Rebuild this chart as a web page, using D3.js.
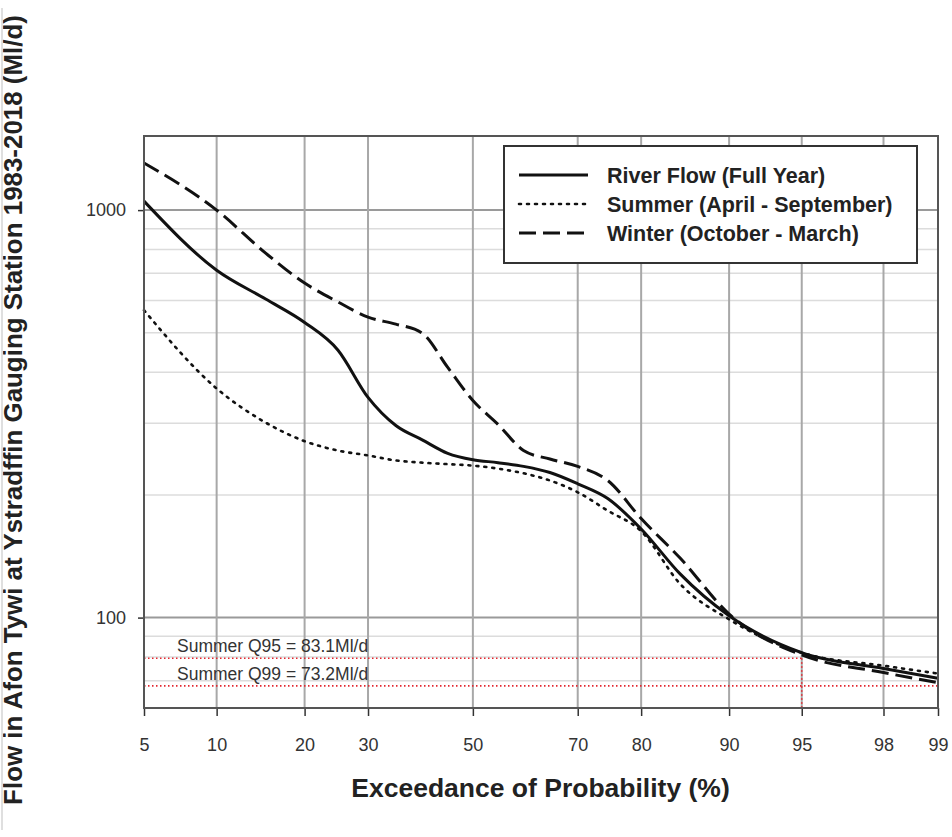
<!DOCTYPE html>
<html>
<head>
<meta charset="utf-8">
<script src="https://cdn.jsdelivr.net/npm/d3@7"></script>
<style>
  html, body { margin: 0; padding: 0; background: #fff; }
  svg { display: block; font-family: "Liberation Sans", Arial, sans-serif; }
</style>
</head>
<body>
<div id="chart"></div>
<script>
// exceedance percentiles (x) and flows in Ml/d (y)
const PCTS = [5, 10, 15, 20, 25, 30, 35, 40, 45, 50, 55, 60, 65, 70, 75, 80, 85, 90, 95, 98, 99];
const FULL_YEAR = [1052, 712, 605, 530, 453, 347, 296, 273, 253, 244, 240, 235, 227, 213, 196, 165, 128, 101, 82, 75, 71];
const SUMMER    = [568, 365, 301, 271, 257, 250, 243, 240, 238, 236, 232, 226, 217, 203, 183, 163, 121, 99, 82, 76.2, 72.9];
const WINTER    = [1305, 1000, 784, 662, 595, 546, 525, 499, 411, 341, 298, 257, 245, 235, 217, 175, 140, 102, 81, 73.3, 69.2];

const X_TICKS = [5, 10, 20, 30, 50, 70, 80, 90, 95, 98, 99];
const Y_TICKS = [100, 1000];
const Y_MINOR = [70, 80, 90, 200, 300, 400, 500, 600, 700, 800, 900];
const Y_DOMAIN = [60, 1520];

const SERIES = [
  { name: "River Flow (Full Year)",      values: FULL_YEAR, dash: null,  width: 3 },
  { name: "Summer (April - September)",  values: SUMMER,    dash: "2,6", width: 2.6 },
  { name: "Winter (October - March)",    values: WINTER,    dash: "17,7", width: 3 }
];

const REF_LINES = [
  { p: 95, value: 79.5, label: "Summer Q95 = 83.1Ml/d" },
  { p: 99, value: 68,   label: "Summer Q99 = 73.2Ml/d" }
];

// inverse normal CDF (Acklam) for the probability axis
function probit(p) {
  const a = [-39.69683028665376, 220.9460984245205, -275.9285104469687, 138.3577518672690, -30.66479806614716, 2.506628277459239];
  const b = [-54.47609879822406, 161.5858368580409, -155.6989798598866, 66.80131188771972, -13.28068155288572];
  const c = [-0.007784894002430293, -0.3223964580411365, -2.400758277161838, -2.549732539343734, 4.374664141464968, 2.938163982698783];
  const d = [0.007784695709041462, 0.3224671290700398, 2.445134137142996, 3.754408661907416];
  const pl = 0.02425;
  let q, r;
  if (p < pl) {
    q = Math.sqrt(-2 * Math.log(p));
    return (((((c[0]*q+c[1])*q+c[2])*q+c[3])*q+c[4])*q+c[5]) / ((((d[0]*q+d[1])*q+d[2])*q+d[3])*q+1);
  }
  if (p > 1 - pl) {
    q = Math.sqrt(-2 * Math.log(1 - p));
    return -(((((c[0]*q+c[1])*q+c[2])*q+c[3])*q+c[4])*q+c[5]) / ((((d[0]*q+d[1])*q+d[2])*q+d[3])*q+1);
  }
  q = p - 0.5; r = q * q;
  return (((((a[0]*r+a[1])*r+a[2])*r+a[3])*r+a[4])*r+a[5])*q / (((((b[0]*r+b[1])*r+b[2])*r+b[3])*r+b[4])*r+1);
}
const z = p => probit(p / 100);

const width = 952, height = 837;
const m = { top: 136, right: 14, bottom: 129, left: 144 };
const x0 = m.left, x1 = width - m.right, y0 = height - m.bottom, y1 = m.top;

const svg = d3.select("#chart").append("svg")
  .attr("width", width).attr("height", height);

const x = d3.scaleLinear().domain([z(5), z(99)]).range([x0, x1]);
const y = d3.scaleLog().domain(Y_DOMAIN).range([y0, y1]);
const px = p => x(z(p));

// grid
const grid = svg.append("g");
grid.selectAll(null).data(Y_MINOR).enter().append("line")
  .attr("x1", x0).attr("x2", x1)
  .attr("y1", d => y(d)).attr("y2", d => y(d))
  .attr("stroke", "#dcdcdc").attr("stroke-width", 1.5);
grid.selectAll(null).data(Y_TICKS).enter().append("line")
  .attr("x1", x0).attr("x2", x1)
  .attr("y1", d => y(d)).attr("y2", d => y(d))
  .attr("stroke", "#9a9a9a").attr("stroke-width", 2);
grid.selectAll(null).data(X_TICKS.slice(1, -1)).enter().append("line")
  .attr("x1", d => px(d)).attr("x2", d => px(d))
  .attr("y1", y1).attr("y2", y0)
  .attr("stroke", "#a8a8a8").attr("stroke-width", 2);

// axes
const xAxis = svg.append("g")
  .attr("transform", `translate(0,${y0})`)
  .call(d3.axisBottom(x)
    .tickValues(X_TICKS.map(z))
    .tickFormat((d, i) => X_TICKS[i])
    .tickSize(8).tickPadding(22).tickSizeOuter(0));
xAxis.select(".domain").remove();
xAxis.selectAll(".tick line").attr("stroke", "#333").attr("stroke-width", 1.5);
xAxis.selectAll(".tick text").attr("font-size", 18).attr("fill", "#333")
  .attr("font-family", "Liberation Sans, Arial, sans-serif");

const yAxis = svg.append("g")
  .attr("transform", `translate(${x0},0)`)
  .call(d3.axisLeft(y).tickValues(Y_TICKS).tickFormat(d3.format("d"))
    .tickSize(6).tickPadding(12).tickSizeOuter(0));
yAxis.select(".domain").remove();
yAxis.selectAll(".tick line").attr("stroke", "#333").attr("stroke-width", 1.5);
yAxis.selectAll(".tick text").attr("font-size", 18).attr("fill", "#333")
  .attr("font-family", "Liberation Sans, Arial, sans-serif");

// reference lines (summer Q95 / Q99)
const ref = svg.append("g");
REF_LINES.forEach(r => {
  ref.append("line")
    .attr("x1", x0).attr("x2", px(r.p))
    .attr("y1", y(r.value)).attr("y2", y(r.value))
    .attr("stroke", "#e3262e").attr("stroke-width", 1.6)
    .attr("stroke-dasharray", "1.5,2.5");
  ref.append("line")
    .attr("x1", px(r.p)).attr("x2", px(r.p))
    .attr("y1", y(r.value)).attr("y2", y0)
    .attr("stroke", "#e3262e").attr("stroke-width", 1.6)
    .attr("stroke-dasharray", "1.5,2.5");
  ref.append("text")
    .attr("x", 177).attr("y", y(r.value) - 6)
    .attr("font-size", 17.5).attr("fill", "#333")
    .text(r.label);
});

// curves
const line = d3.line()
  .x((d, i) => px(PCTS[i]))
  .y(d => y(d))
  .curve(d3.curveMonotoneX);

SERIES.forEach(s => {
  svg.append("path")
    .datum(s.values)
    .attr("fill", "none")
    .attr("stroke", "#111")
    .attr("stroke-width", s.width)
    .attr("stroke-dasharray", s.dash)
    .attr("stroke-linecap", s.dash === "2,6" ? "round" : "butt")
    .attr("d", line);
});

// frame
svg.append("rect")
  .attr("x", x0).attr("y", y1)
  .attr("width", x1 - x0).attr("height", y0 - y1)
  .attr("fill", "none").attr("stroke", "#555").attr("stroke-width", 2);

// legend
const lg = svg.append("g");
lg.append("rect")
  .attr("x", 504).attr("y", 146).attr("width", 413).attr("height", 117)
  .attr("fill", "#fff").attr("stroke", "#333").attr("stroke-width", 2);
SERIES.forEach((s, i) => {
  const ly = 175 + i * 29;
  lg.append("line")
    .attr("x1", 519).attr("x2", 588).attr("y1", ly).attr("y2", ly)
    .attr("stroke", "#111").attr("stroke-width", s.width)
    .attr("stroke-dasharray", s.dash)
    .attr("stroke-linecap", s.dash === "2,6" ? "round" : "butt");
  lg.append("text")
    .attr("x", 607).attr("y", ly + 7.5)
    .attr("font-size", 21.5).attr("font-weight", 700).attr("fill", "#222")
    .text(s.name);
});

// axis titles
svg.append("text")
  .attr("x", (x0 + x1) / 2 - 0.5).attr("y", 797)
  .attr("text-anchor", "middle")
  .attr("font-size", 26.5).attr("font-weight", 700).attr("fill", "#222")
  .text("Exceedance of Probability (%)");

const yTitle = svg.append("text")
  .attr("transform", "translate(22,410) rotate(-90)")
  .attr("text-anchor", "middle")
  .attr("font-size", 20).attr("font-weight", 700).attr("fill", "#222")
  .text("Flow in Afon Tywi at Ystradffin Gauging Station 1983-2018 (Ml/d)");
const len = yTitle.node().getComputedTextLength();
yTitle.attr("font-size", 20 * 790 / len);

svg.append("line")
  .attr("x1", 2).attr("x2", 2).attr("y1", 8).attr("y2", 830)
  .attr("stroke", "#d4d4d4").attr("stroke-width", 1.5);
</script>
</body>
</html>
